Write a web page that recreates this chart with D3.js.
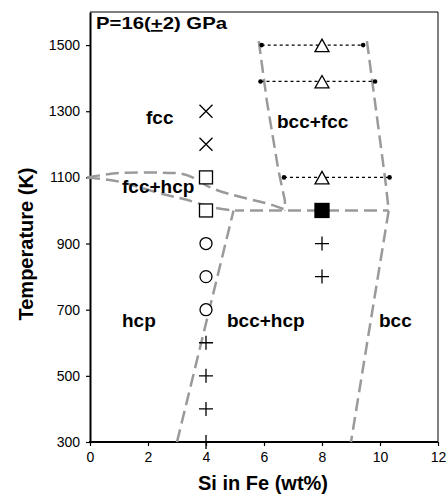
<!DOCTYPE html>
<html>
<head>
<meta charset="utf-8">
<script src="https://cdn.jsdelivr.net/npm/d3@7"></script>
<style>
  body { margin: 0; background: #fff; }
  text { font-family: "Liberation Sans", Arial, Helvetica, sans-serif; }
</style>
</head>
<body>
<div id="chart"></div>
<script>
var xTicks = [0, 2, 4, 6, 8, 10, 12];
var yTicks = [300, 500, 700, 900, 1100, 1300, 1500];

// observations: Si wt% and temperature (K)
var crosses = [[4, 1300], [4, 1200]];
var openSquares = [[4, 1100], [4, 1000]];
var circles = [[4, 900], [4, 800], [4, 700]];
var pluses = [[4, 600], [4, 500], [4, 400], [4, 300], [8, 900], [8, 800]];
var filledSquares = [[8, 1000]];
var triangles = [[8, 1500], [8, 1390], [8, 1100]];

// tie lines: temperature, low Si end, high Si end
var tieLines = [[1500, 5.92, 9.42], [1390, 5.88, 9.83], [1100, 6.69, 10.33]];

// phase boundaries
var hcpBoundary = [[3.0, 300], [4.95, 1000]];
var lensUpper = [[-0.1, 1100], [1, 1113], [2.5, 1114], [3.3, 1108], [4.3, 1064], [6.3, 1016], [6.8, 1000]];
var lensLower = [[-0.1, 1100], [1, 1087], [2.5, 1050], [3.3, 1033], [4.3, 1008], [5, 1000]];
var isotherm = [[5, 1000], [10.3, 1000]];
var bccFccLeft = [[5.82, 1512], [6.1, 1330], [6.5, 1120], [6.72, 1030], [6.72, 1000]];
var bccRight = [[9.55, 1512], [10.2, 1080], [10.3, 1000], [9.0, 300]];

var labels = [
    ["fcc", 146, 124], ["bcc+fcc", 277, 128], ["fcc+hcp", 122, 193],
    ["hcp", 122, 327], ["bcc+hcp", 227, 327], ["bcc", 379, 327]
];

var width = 448, height = 497;
var margin = { left: 90, right: 10, top: 12, bottom: 55 };

var svg = d3.select("#chart")
    .append("svg")
        .attr("width", width)
        .attr("height", height);

var x = d3.scaleLinear()
    .domain([0, 12])
    .range([margin.left, width - margin.right]);

var y = d3.scaleLinear()
    .domain([300, 1600])
    .range([height - margin.bottom, margin.top]);

var line = d3.line()
    .x(function(d){ return x(d[0]); })
    .y(function(d){ return y(d[1]); });

var curve = d3.line()
    .x(function(d){ return x(d[0]); })
    .y(function(d){ return y(d[1]); })
    .curve(d3.curveCatmullRom);

// frame
svg.append("line")
    .attr("x1", x(0)).attr("x2", x(12))
    .attr("y1", y(1600)).attr("y2", y(1600))
    .attr("stroke", "#000").attr("stroke-width", 1);
svg.append("line")
    .attr("x1", x(12)).attr("x2", x(12))
    .attr("y1", y(1600)).attr("y2", y(300))
    .attr("stroke", "#000").attr("stroke-width", 1);

var xAxis = svg.append("g")
    .attr("transform", "translate(0," + y(300) + ")")
    .call(d3.axisBottom(x).tickValues(xTicks).tickSize(4).tickPadding(6).tickSizeOuter(0));

var yAxis = svg.append("g")
    .attr("transform", "translate(" + x(0) + ",0)")
    .call(d3.axisLeft(y).tickValues(yTicks).tickFormat(d3.format("d"))
        .tickSize(4).tickPadding(6).tickSizeOuter(0));

[xAxis, yAxis].forEach(function(a){
    a.select(".domain").attr("stroke", "#000").attr("stroke-width", 2);
    a.selectAll(".tick line").attr("stroke", "#000").attr("stroke-width", 1.2);
    a.selectAll(".tick text")
        .attr("fill", "#000")
        .attr("font-size", "14px")
        .attr("font-family", "Liberation Sans, Arial, sans-serif");
});
xAxis.select(".domain").attr("d", "M" + (x(0) - 1) + ",0H" + x(12));

// phase boundaries
var bounds = svg.append("g")
    .attr("fill", "none")
    .attr("stroke", "#9a9a9a")
    .attr("stroke-width", 2.5)
    .attr("stroke-dasharray", "13,6");

bounds.append("path").attr("d", line(hcpBoundary));
bounds.append("path").attr("d", curve(lensUpper));
bounds.append("path").attr("d", curve(lensLower));
bounds.append("path").attr("d", line(isotherm)).attr("stroke-dashoffset", 4);
bounds.append("path").attr("d", line(bccFccLeft));
bounds.append("path").attr("d", line(bccRight));

// tie lines
var ties = svg.append("g");
ties.selectAll("line")
    .data(tieLines)
    .enter()
    .append("line")
    .attr("x1", function(d){ return x(d[1]); })
    .attr("x2", function(d){ return x(d[2]); })
    .attr("y1", function(d){ return y(d[0]); })
    .attr("y2", function(d){ return y(d[0]); })
    .attr("stroke", "#000")
    .attr("stroke-width", 1.2)
    .attr("stroke-dasharray", "3,3");

var ends = [];
tieLines.forEach(function(d){
    ends.push([d[1], d[0]]);
    ends.push([d[2], d[0]]);
});
ties.selectAll("circle")
    .data(ends)
    .enter()
    .append("circle")
    .attr("cx", function(d){ return x(d[0]); })
    .attr("cy", function(d){ return y(d[1]); })
    .attr("r", 2.3)
    .attr("fill", "#000");

// markers
var marks = svg.append("g")
    .attr("stroke", "#000")
    .attr("stroke-width", 1.3);

function place(d){ return "translate(" + x(d[0]) + "," + y(d[1]) + ")"; }

marks.selectAll(".cross")
    .data(crosses)
    .enter().append("path")
    .attr("class", "cross")
    .attr("transform", place)
    .attr("d", "M-6.5,-6.5L6.5,6.5M6.5,-6.5L-6.5,6.5")
    .attr("fill", "none");

marks.selectAll(".osq")
    .data(openSquares)
    .enter().append("rect")
    .attr("class", "osq")
    .attr("transform", place)
    .attr("x", -6.5).attr("y", -6.5)
    .attr("width", 13).attr("height", 13)
    .attr("fill", "#fff");

marks.selectAll(".circ")
    .data(circles)
    .enter().append("circle")
    .attr("class", "circ")
    .attr("transform", place)
    .attr("r", 6)
    .attr("fill", "#fff");

marks.selectAll(".plus")
    .data(pluses)
    .enter().append("path")
    .attr("class", "plus")
    .attr("transform", place)
    .attr("d", "M-7,0H7M0,-7V7")
    .attr("fill", "none");

marks.selectAll(".fsq")
    .data(filledSquares)
    .enter().append("rect")
    .attr("class", "fsq")
    .attr("transform", place)
    .attr("x", -7).attr("y", -7)
    .attr("width", 14).attr("height", 14)
    .attr("fill", "#000");

marks.selectAll(".tri")
    .data(triangles)
    .enter().append("path")
    .attr("class", "tri")
    .attr("transform", place)
    .attr("d", "M0,-6L7,6.5H-7Z")
    .attr("fill", "#fff");

// region labels
svg.append("g").selectAll("text")
    .data(labels)
    .enter().append("text")
    .attr("x", function(d){ return d[1]; })
    .attr("y", function(d){ return d[2]; })
    .attr("font-size", "19px")
    .attr("font-weight", "bold")
    .attr("fill", "#000")
    .text(function(d){ return d[0]; });

// pressure note
var title = svg.append("text")
    .attr("x", 96)
    .attr("y", 29)
    .attr("font-size", "17px")
    .attr("font-weight", "bold")
    .attr("textLength", 131)
    .attr("lengthAdjust", "spacingAndGlyphs");
title.append("tspan").text("P=16(");
title.append("tspan").attr("text-decoration", "underline").text("+");
title.append("tspan").text("2) GPa");

// axis titles
svg.append("text")
    .attr("x", 263)
    .attr("y", 490)
    .attr("text-anchor", "middle")
    .attr("font-size", "20px")
    .attr("font-weight", "bold")
    .text("Si in Fe (wt%)");

svg.append("text")
    .attr("transform", "translate(33,244) rotate(-90)")
    .attr("text-anchor", "middle")
    .attr("font-size", "20px")
    .attr("font-weight", "bold")
    .text("Temperature (K)");
</script>
</body>
</html>
